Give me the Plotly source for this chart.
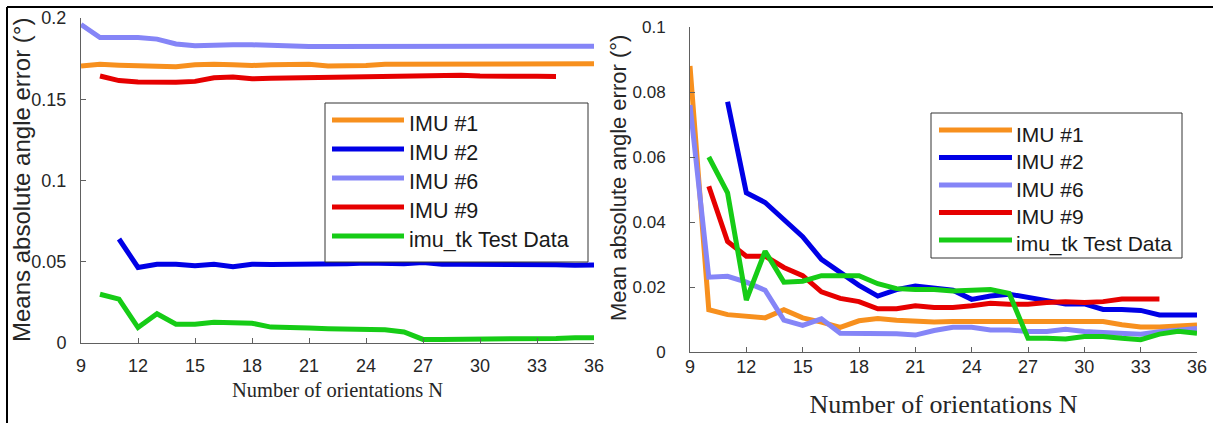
import plotly.graph_objects as go

# ---------------- data ----------------
N = list(range(9, 37))
series_names = ["IMU #1", "IMU #2", "IMU #6", "IMU #9", "imu_tk Test Data"]
series_colors = ["#F7901E", "#0000E6", "#8585F7", "#E60000", "#16CC16"]

# left panel: Means absolute angle error (deg)
left_imu1 = [0.1705, 0.1715, 0.171, 0.1708, 0.1702, 0.170, 0.1712, 0.1716, 0.1712, 0.1708,
             0.1712, 0.1715, 0.1716, 0.1705, 0.1705, 0.1708, 0.1716, 0.1716, 0.1718, 0.1718,
             0.172, 0.172, 0.172, 0.172, 0.172, 0.172, 0.172, 0.1718]
left_imu2 = [None, None, 0.064, 0.0465, 0.0485, 0.0485, 0.0475, 0.0485, 0.0470, 0.0485,
             0.0483, 0.0483, 0.0488, 0.0488, 0.0488, 0.0492, 0.0487, 0.0488, 0.0495, 0.0485,
             0.0485, 0.0485, 0.0483, 0.0488, 0.0485, 0.0482, 0.0478, 0.048]
left_imu6 = [0.196, 0.188, 0.188, 0.188, 0.187, 0.184, 0.183, 0.1835, 0.1835, 0.1835,
             0.183, 0.1825, 0.1825, 0.1825, 0.1825, 0.1825, 0.1828, 0.1828, 0.1828, 0.1828,
             0.1828, 0.1828, 0.1825, 0.1828, 0.1828, 0.1828, 0.1828, 0.1826]
left_imu9 = [None, 0.1643, 0.1615, 0.1606, 0.1604, 0.1604, 0.161, 0.1632, 0.1637, 0.1626,
             0.163, 0.1632, 0.1634, 0.1634, 0.1634, 0.1636, 0.1639, 0.1643, 0.1645, 0.1647,
             0.1647, 0.1643, 0.164, 0.1641, 0.1641, 0.164, None, None]
left_imutk = [None, 0.030, 0.027, 0.0095, 0.018, 0.0115, 0.0115, 0.0128, 0.0122, 0.0122,
              0.0098, 0.0092, 0.0092, 0.0088, 0.0085, 0.0085, 0.0082, 0.0068, 0.0022, 0.0022,
              0.0022, 0.0025, 0.0025, 0.0025, 0.0025, 0.0028, 0.0032, 0.0032]

# right panel: Mean absolute angle error (deg)
right_imu1 = [0.088, 0.013, 0.0115, 0.011, 0.0105, 0.013, 0.0105, 0.0092, 0.0076, 0.0096,
              0.0103, 0.0098, 0.0094, 0.0092, 0.0094, 0.0094, 0.0096, 0.0096, 0.0096, 0.0096,
              0.0095, 0.0095, 0.0094, 0.0084, 0.0077, 0.0077, 0.0079, 0.0083]
right_imu2 = [None, None, 0.077, 0.049, 0.046, 0.041, 0.0355, 0.0285, 0.0245, 0.0205,
              0.0172, 0.0192, 0.0203, 0.0198, 0.0190, 0.0162, 0.0172, 0.0178, 0.0168, 0.0155,
              0.0148, 0.0148, 0.0131, 0.0131, 0.0128, 0.0114, 0.0114, 0.0114]
right_imu6 = [0.076, 0.023, 0.0233, 0.0215, 0.019, 0.0098, 0.0082, 0.0102, 0.0058, 0.0058,
              0.0056, 0.0056, 0.0052, 0.0066, 0.0076, 0.0076, 0.0068, 0.0068, 0.0063, 0.0063,
              0.007, 0.0063, 0.006, 0.0057, 0.0055, 0.0062, 0.0068, 0.0072]
right_imu9 = [None, 0.051, 0.034, 0.0295, 0.0295, 0.026, 0.0235, 0.0185, 0.0165, 0.0155,
              0.0133, 0.0133, 0.0142, 0.0137, 0.0137, 0.0142, 0.015, 0.0147, 0.0147, 0.0152,
              0.0155, 0.0152, 0.0155, 0.0163, 0.0163, 0.0163, None, None]
right_imutk = [None, 0.060, 0.049, 0.016, 0.031, 0.0215, 0.0218, 0.0235, 0.0235, 0.0235,
               0.021, 0.0195, 0.0192, 0.0192, 0.0188, 0.019, 0.0192, 0.018, 0.0042, 0.0042,
               0.004, 0.0048, 0.0048, 0.0042, 0.0038, 0.0055, 0.0064, 0.0058]

left_series = [left_imu1, left_imu2, left_imu6, left_imu9, left_imutk]
right_series = [right_imu1, right_imu2, right_imu6, right_imu9, right_imutk]

x_ticks = list(range(9, 37, 3))
left_yticks = [0, 0.05, 0.1, 0.15, 0.2]
left_yticktext = ["0", "0.05", "0.1", "0.15", "0.2"]
right_yticks = [0, 0.02, 0.04, 0.06, 0.08, 0.1]
right_yticktext = ["0", "0.02", "0.04", "0.06", "0.08", "0.1"]

left_ytitle = "Means absolute angle error (°)"
right_ytitle = "Mean absolute angle error (°)"
x_title = "Number of orientations N"

# ---------------- layout helpers ----------------
W, H = 1213, 423


def px(x):
    return x / W


def py(y):
    return 1 - y / H


SANS = "Liberation Sans, Arial, sans-serif"
SERIF = "Liberation Serif, Times New Roman, serif"
TXT = "#262626"
AX = "#606060"
LW = 5

fig = go.Figure()

for name, color, ys in zip(series_names, series_colors, left_series):
    fig.add_trace(go.Scatter(x=N, y=ys, mode="lines", name=name, xaxis="x", yaxis="y",
                             line=dict(color=color, width=LW), showlegend=False,
                             connectgaps=False, cliponaxis=False, hoverinfo="skip"))
for name, color, ys in zip(series_names, series_colors, right_series):
    fig.add_trace(go.Scatter(x=N, y=ys, mode="lines", name=name, xaxis="x2", yaxis="y2",
                             line=dict(color=color, width=LW), showlegend=False,
                             connectgaps=False, cliponaxis=False, hoverinfo="skip"))

common_x = dict(range=[9, 36], tickmode="array", tickvals=x_ticks, automargin=False,
                showline=True, linecolor=AX, linewidth=1, ticks="inside", ticklen=5,
                tickcolor=AX, showgrid=False, zeroline=False,
                tickfont=dict(family=SANS, size=18, color=TXT))
common_y = dict(showline=True, linecolor=AX, linewidth=1, ticks="inside", ticklen=5,
                tickcolor=AX, showgrid=False, zeroline=False, automargin=False)

# panel placement (pixels)
L = dict(x0=81, x1=594, y0=18, y1=343)
R = dict(x0=690, x1=1197, y0=27, y1=352)

fig.update_layout(
    width=W, height=H,
    margin=dict(l=0, r=0, t=0, b=0, autoexpand=False),
    paper_bgcolor="white", plot_bgcolor="white",
    showlegend=False,
    xaxis=dict(common_x, domain=[px(L["x0"]), px(L["x1"])], anchor="y", ticklabelstandoff=6,
               title=dict(text=x_title, font=dict(family=SERIF, size=20.5, color=TXT), standoff=8)),
    yaxis=dict(common_y, domain=[py(L["y1"]), py(L["y0"])], anchor="x", range=[0, 0.2],
               ticklabelstandoff=10, tickfont=dict(family=SANS, size=18, color=TXT),
               tickmode="array", tickvals=left_yticks, ticktext=left_yticktext),
    xaxis2=dict(common_x, domain=[px(R["x0"]), px(R["x1"])], anchor="y2", ticklabelstandoff=-2,
                title=dict(text=x_title, font=dict(family=SERIF, size=26, color=TXT), standoff=19)),
    yaxis2=dict(common_y, domain=[py(R["y1"]), py(R["y0"])], anchor="x2", range=[0, 0.1],
                ticklabelstandoff=20, tickfont=dict(family=SANS, size=17, color=TXT),
                tickmode="array", tickvals=right_yticks, ticktext=right_yticktext),
)

# y-axis titles (rotated text)
fig.add_annotation(xref="paper", yref="paper", x=px(22), y=py(180), text=left_ytitle,
                   textangle=-90, showarrow=False, xanchor="center", yanchor="middle",
                   font=dict(family=SANS, size=24, color=TXT))
fig.add_annotation(xref="paper", yref="paper", x=px(619), y=py(178), text=right_ytitle,
                   textangle=-90, showarrow=False, xanchor="center", yanchor="middle",
                   font=dict(family=SANS, size=22, color=TXT))

# outer frame lines (top and left)
fig.add_shape(type="line", xref="paper", yref="paper", x0=px(7), x1=1, y0=py(7), y1=py(7),
              line=dict(color="black", width=2))
fig.add_shape(type="line", xref="paper", yref="paper", x0=px(7), x1=px(7), y0=py(7), y1=0,
              line=dict(color="black", width=2))


def add_legend(box, first_y, step, line_x0, line_x1, text_x, size):
    bx0, bx1, by0, by1 = box
    fig.add_shape(type="rect", xref="paper", yref="paper", layer="above",
                  x0=px(bx0), x1=px(bx1), y0=py(by1), y1=py(by0),
                  line=dict(color="#333333", width=1), fillcolor="white")
    for i, (name, color) in enumerate(zip(series_names, series_colors)):
        yy = first_y + i * step
        fig.add_shape(type="line", xref="paper", yref="paper", layer="above",
                      x0=px(line_x0), x1=px(line_x1), y0=py(yy), y1=py(yy),
                      line=dict(color=color, width=LW))
        fig.add_annotation(xref="paper", yref="paper", x=px(text_x), y=py(yy + 4),
                           xanchor="left", yanchor="middle", showarrow=False, text=name,
                           font=dict(family=SANS, size=size, color="#1a1a1a"))


add_legend((325, 588, 103, 262), 120, 29, 332, 404, 407, 21.5)
add_legend((931, 1182, 113, 258), 130, 27.5, 939, 1012, 1014, 21)

fig.write_html("out.html", config={"displayModeBar": False},
               post_script="document.body.style.margin='0';document.body.style.overflow='hidden';")
